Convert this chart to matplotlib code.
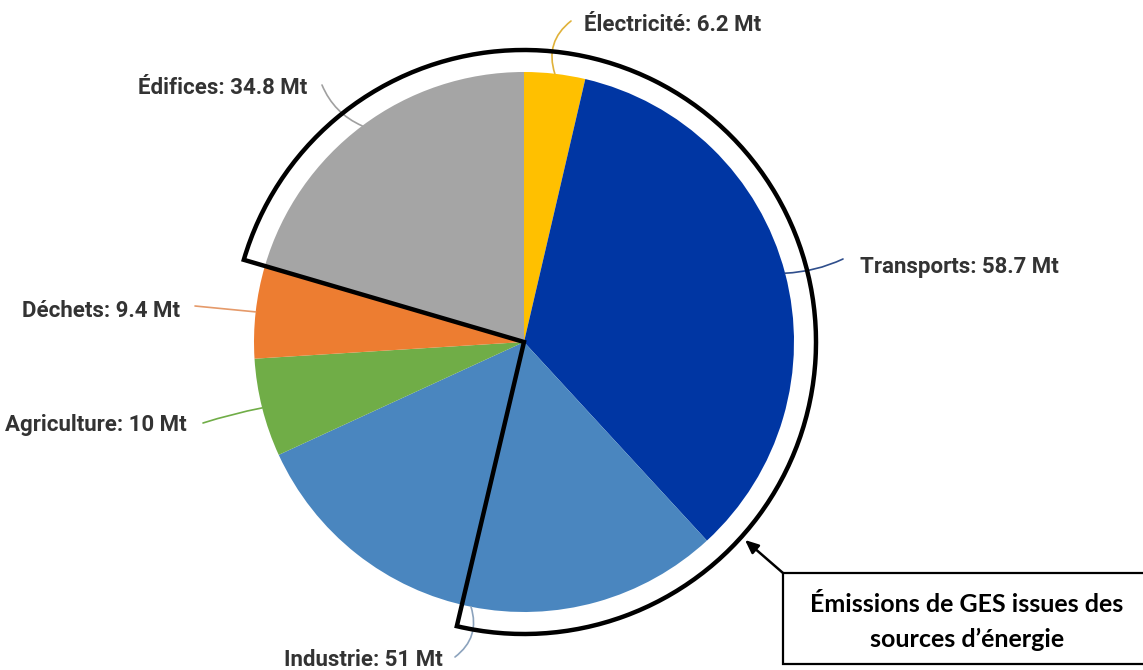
import numpy as np
import matplotlib
matplotlib.use("Agg")
import matplotlib.pyplot as plt
from matplotlib.patches import Wedge, Rectangle

# data
categories = ["Électricité", "Transports", "Industrie", "Agriculture", "Déchets", "Édifices"]
values = [6.2, 58.7, 51, 10, 9.4, 34.8]
value_labels = ["6.2", "58.7", "51", "10", "9.4", "34.8"]
colors = ["#FFC000", "#0036A3", "#4A86BF", "#70AD47", "#ED7D31", "#A5A5A5"]
leader_colors = ["#E0B23A", "#2F4E8C", "#8CA3BD", "#70AD47", "#E59A6A", "#A0A0A0"]
callout_text = "Émissions de GES issues des\nsources d\u2019énergie"

W, H = 1143, 670
CX, CY, R = 524, H - 342, 270

LABEL_FONT = ["Liberation Sans Narrow", "Roboto", "DejaVu Sans"]

# label anchor (image px), leader end (image px), alignment, curvature
label_layout = [
    ((584, 25), (571, 21), "left", -0.35),
    ((860, 267), (843, 259), "left", 0.1),
    ((443, 660), (455, 657), "right", -0.35),
    ((187, 425), (203, 423), "right", 0.03),
    ((180, 311), (195, 306), "right", 0.0),
    ((307, 88), (322, 85), "right", -0.2),
]


def img(x, y):
    return x, H - y


def main():
    fig = plt.figure(figsize=(W / 100, H / 100), dpi=100)
    ax = fig.add_axes([0, 0, 1, 1])

    total = sum(values)
    angles = np.cumsum([0] + [v / total * 360 for v in values])
    starts = 90 - angles[:-1]
    ends = 90 - angles[1:]
    mids = (starts + ends) / 2

    # outlined group: Édifices -> Électricité -> Transports -> part of Industrie
    a1 = -103.3
    a2 = starts[5]
    back = Wedge((CX, CY), 292, a1, a2, facecolor="white", edgecolor="none", zorder=1)
    ax.add_patch(back)

    ax.pie(values, colors=colors, startangle=90, counterclock=False,
           center=(CX, CY), radius=R, frame=True,
           wedgeprops=dict(edgecolor="none", zorder=2))
    ax.set_xlim(0, W)
    ax.set_ylim(0, H)
    ax.set_aspect("equal")
    ax.axis("off")

    outline = Wedge((CX, CY), 292, a1, a2, facecolor="none", edgecolor="black",
                    lw=3.2, joinstyle="miter", zorder=5)
    ax.add_patch(outline)

    # labels with leader lines
    for i, (cat, val) in enumerate(zip(categories, value_labels)):
        (tx, ty), (lx, ly), ha, rad = label_layout[i]
        th = np.deg2rad(mids[i])
        sx, sy = CX + R * np.cos(th), CY + R * np.sin(th)
        ax.annotate("", xy=img(lx, ly), xytext=(sx, sy),
                    arrowprops=dict(arrowstyle="-", color=leader_colors[i], lw=1.2,
                                    shrinkA=0, shrinkB=0,
                                    connectionstyle=f"arc3,rad={rad}"),
                    zorder=4)
        ax.text(*img(tx, ty), f"{cat}: {val} Mt", ha=ha, va="center",
                fontsize=16, fontweight="bold", color="#333333",
                family=LABEL_FONT, zorder=6)

    # callout box
    ax.add_patch(Rectangle(img(783, 664), 400, 91, facecolor="white",
                           edgecolor="black", lw=1.6, zorder=6))
    ax.text(*img(967, 622), callout_text, ha="center", va="center",
            fontsize=18, fontweight="bold", color="black", linespacing=1.6,
            family=["Lato", "DejaVu Sans"], zorder=7)
    ax.annotate("", xy=img(745, 540), xytext=img(783, 573),
                arrowprops=dict(arrowstyle="-|>,head_length=0.8,head_width=0.35",
                                color="black", lw=1.8, shrinkA=0, shrinkB=0),
                zorder=7)

    fig.savefig("out.png", dpi=100, facecolor="white")
    return 0


if __name__ == "__main__":
    main()
